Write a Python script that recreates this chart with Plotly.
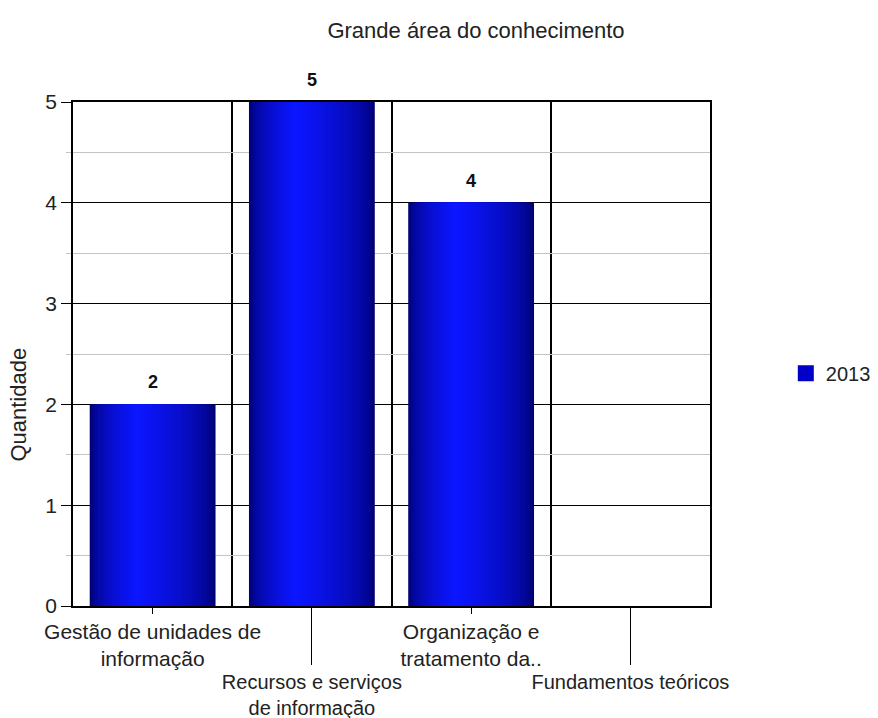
import plotly.graph_objects as go

categories = ["Gestão de unidades de<br>informação",
              "Recursos e serviços<br>de informação",
              "Organização e<br>tratamento da..",
              "Fundamentos teóricos"]
values = [2, 5, 4, 0]
series_name = "2013"
y_ticks = [0, 1, 2, 3, 4, 5]
y_minor = [0.5, 1.5, 2.5, 3.5, 4.5]
chart_title = "Grande área do conhecimento"
y_title = "Quantidade"

xpos = list(range(len(categories)))
bounds = [p + 0.5 for p in xpos[:-1]]

FONT = "Liberation Sans, Arial, sans-serif"
TXT = "#222222"

fig = go.Figure()

# gradient bars built from nested overlaid bars
N = 40
W = 0.79
peak = 0.37
dark = (0, 0, 110)
bright = (12, 22, 255)
for i in range(N):
    s = 1 - i / N
    t = (i / (N - 1)) ** 0.55
    col = "rgb(%d,%d,%d)" % tuple(round(dark[k] + (bright[k] - dark[k]) * t) for k in range(3))
    fig.add_bar(x=xpos, y=values, width=W * s, offset=-W / 2 + peak * W * (1 - s),
                marker=dict(color=col, line=dict(width=0)),
                showlegend=False, hoverinfo="skip")

# legend entry
fig.add_scatter(x=[None], y=[None], mode="markers", name=series_name, xaxis="x2",
                marker=dict(symbol="square", size=20, color="#0000c8", line=dict(width=0)))

for xp, v in zip(xpos, values):
    if v > 0:
        fig.add_annotation(x=xp, y=v, text="<b>%d</b>" % v, showarrow=False,
                           yanchor="bottom", yshift=10,
                           font=dict(family=FONT, size=18, color="#111"))

fig.add_annotation(text=y_title, xref="paper", yref="paper", x=-0.086, y=0.40,
                   textangle=-90, showarrow=False, xanchor="center", yanchor="middle",
                   font=dict(family=FONT, size=22, color=TXT))

fig.update_layout(
    width=878, height=718,
    margin=dict(l=73, r=168, t=102, b=112, autoexpand=False),
    paper_bgcolor="white", plot_bgcolor="white",
    barmode="overlay",
    font=dict(family=FONT, size=22, color=TXT),
    title=dict(text=chart_title, x=476 / 878, xref="container", xanchor="center",
               y=1 - 30 / 718, yanchor="middle",
               font=dict(family=FONT, size=22, color=TXT)),
    showlegend=True,
    legend=dict(x=1.119, y=0.462, xanchor="left", yanchor="middle",
                font=dict(family=FONT, size=20, color=TXT),
                itemsizing="trace", bgcolor="rgba(0,0,0,0)"),
    xaxis=dict(type="linear", range=[-0.5, 3.5], tickmode="array", automargin=False,
               tickvals=[xpos[0], xpos[2]], ticktext=[categories[0], categories[2]],
               ticks="outside", ticklen=6, tickcolor="black", tickwidth=1.2,
               showgrid=False, zeroline=False,
               showline=True, mirror=True, linecolor="black", linewidth=1.5,
               minor=dict(tickmode="array", tickvals=bounds, showgrid=True,
                          gridcolor="black", gridwidth=1.5, ticks=""),
               tickfont=dict(family=FONT, size=21, color=TXT)),
    xaxis2=dict(type="linear", range=[-0.5, 3.5], overlaying="x", anchor="y", side="bottom",
                tickmode="array", automargin=False,
                tickvals=[xpos[1], xpos[3]], ticktext=[categories[1], categories[3]],
                ticks="outside", ticklen=58, tickcolor="black", tickwidth=1.2,
                showgrid=False, zeroline=False, showline=False,
                tickfont=dict(family=FONT, size=20, color=TXT)),
    yaxis=dict(range=[0, 5], tickmode="array", tickvals=y_ticks, automargin=False,
               ticks="outside", ticklen=10, tickcolor="black", tickwidth=1.2,
               showgrid=True, gridcolor="black", gridwidth=1.2, zeroline=False,
               showline=True, mirror=True, linecolor="black", linewidth=1.5,
               minor=dict(tickmode="array", tickvals=y_minor, showgrid=True,
                          gridcolor="#c4c4c4", gridwidth=1.2, ticks="outside",
                          ticklen=5, tickcolor="#c4c4c4"),
               tickfont=dict(family=FONT, size=21, color=TXT)),
)

fig.write_html("out.html")
